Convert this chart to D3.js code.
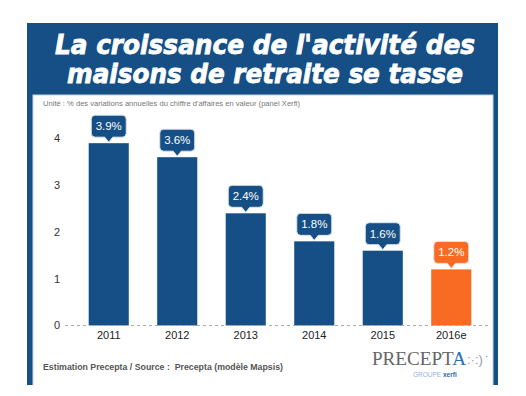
<!DOCTYPE html>
<html>
<head>
<meta charset="utf-8">
<script src="https://cdn.jsdelivr.net/npm/d3@7"></script>
<style>
  body { margin: 0; background: #fff; }
  svg { display: block; }
</style>
</head>
<body>
<svg id="chart" width="526" height="396"></svg>
<script>
// data
const years = ['2011', '2012', '2013', '2014', '2015', '2016e'];
const growth = [3.9, 3.6, 2.4, 1.8, 1.6, 1.2];
const labels = ['3.9%', '3.6%', '2.4%', '1.8%', '1.6%', '1.2%'];
const estimated = [false, false, false, false, false, true];
const yTicks = [0, 1, 2, 3, 4];

const titleLines = ["La croissance de l'activité des", 'maisons de retraite se tasse'];
const unitText = "Unité : % des variations annuelles du chiffre d'affaires en valeur (panel Xerfi)";
const sourceText = 'Estimation Precepta / Source :  Precepta (modèle Mapsis)';

const blue = '#154f85';
const orange = '#f96b22';

const svg = d3.select('#chart');

// frame
svg.append('rect')
  .attr('x', 27).attr('y', 23)
  .attr('width', 471).attr('height', 362)
  .attr('fill', blue);
svg.append('rect')
  .attr('x', 33).attr('y', 95)
  .attr('width', 460).attr('height', 301)
  .attr('fill', '#fff')
  .attr('stroke', '#c9d6e6').attr('stroke-width', 1);
svg.append('rect')
  .attr('x', 0).attr('y', 385)
  .attr('width', 526).attr('height', 11)
  .attr('fill', '#fff');

// title
const titleSpec = [{ x: 55, y: 54, w: 420 }, { x: 67, y: 83, w: 396 }];
svg.selectAll('text.title')
  .data(titleLines)
  .enter().append('text')
  .attr('class', 'title')
  .attr('x', (d, i) => titleSpec[i].x)
  .attr('y', (d, i) => titleSpec[i].y)
  .attr('textLength', (d, i) => titleSpec[i].w)
  .attr('lengthAdjust', 'spacingAndGlyphs')
  .attr('fill', '#fff')
  .attr('stroke', '#fff')
  .attr('stroke-width', 0.8)
  .style('font-family', '"DejaVu Sans", sans-serif')
  .style('font-weight', 'bold')
  .style('font-style', 'italic')
  .style('font-size', '27px')
  .text(d => d);

svg.append('text')
  .attr('x', 43).attr('y', 106)
  .attr('fill', '#777')
  .style('font-family', '"Liberation Sans", Arial, sans-serif')
  .style('font-size', '7.6px')
  .text(unitText);

// scales
const x = d3.scaleBand()
  .domain(years)
  .range([75, 485])
  .paddingInner(0.415)
  .paddingOuter(0.2);

const y = d3.scaleLinear()
  .domain([0, 4])
  .range([325.5, 138.5]);

// y labels
svg.selectAll('text.ytick')
  .data(yTicks)
  .enter().append('text')
  .attr('class', 'ytick')
  .attr('x', 57)
  .attr('y', d => y(d))
  .attr('dy', '0.35em')
  .attr('text-anchor', 'middle')
  .attr('fill', '#333')
  .style('font-family', '"Liberation Sans", Arial, sans-serif')
  .style('font-size', '11px')
  .text(d => d);

// bars
svg.selectAll('rect.bar')
  .data(growth)
  .enter().append('rect')
  .attr('class', 'bar')
  .attr('x', (d, i) => x(years[i]))
  .attr('y', d => y(d))
  .attr('width', x.bandwidth())
  .attr('height', d => y(0) - y(d))
  .attr('fill', (d, i) => estimated[i] ? orange : blue);

// zero line
svg.append('line')
  .attr('x1', 65).attr('x2', 490)
  .attr('y1', y(0)).attr('y2', y(0))
  .attr('stroke', '#aaa')
  .attr('stroke-width', 1)
  .attr('stroke-dasharray', '3,3');

// x axis
const xAxis = svg.append('g')
  .attr('transform', 'translate(0,' + y(0) + ')')
  .call(d3.axisBottom(x).tickSize(0).tickPadding(6));
xAxis.select('.domain').remove();
xAxis.selectAll('text')
  .attr('fill', '#222')
  .style('font-family', '"Liberation Sans", Arial, sans-serif')
  .style('font-size', '11px');

// callouts
const boxW = 35, boxH = 22;
const call = svg.selectAll('g.call')
  .data(growth)
  .enter().append('g')
  .attr('class', 'call')
  .attr('transform', (d, i) => 'translate(' + (x(years[i]) + x.bandwidth() / 2) + ',' + y(d) + ')');

call.append('path')
  .attr('d', 'M' + (-boxW / 2 + 4) + ',' + (-6 - boxH)
    + 'H' + (boxW / 2 - 4) + 'Q' + (boxW / 2) + ',' + (-6 - boxH) + ' ' + (boxW / 2) + ',' + (-6 - boxH + 4)
    + 'V-10Q' + (boxW / 2) + ',-6 ' + (boxW / 2 - 4) + ',-6'
    + 'H4L0,-1L-4,-6'
    + 'H' + (-boxW / 2 + 4) + 'Q' + (-boxW / 2) + ',-6 ' + (-boxW / 2) + ',-10'
    + 'V' + (-6 - boxH + 4) + 'Q' + (-boxW / 2) + ',' + (-6 - boxH) + ' ' + (-boxW / 2 + 4) + ',' + (-6 - boxH) + 'Z')
  .attr('fill', (d, i) => estimated[i] ? orange : blue)
  .attr('stroke', '#dce5ef')
  .attr('stroke-width', 1);

call.append('text')
  .attr('y', -6 - boxH / 2)
  .attr('dy', '0.35em')
  .attr('text-anchor', 'middle')
  .attr('fill', '#fff')
  .style('font-family', '"Liberation Sans", Arial, sans-serif')
  .style('font-size', '11.5px')
  .text((d, i) => labels[i]);

// source
svg.append('text')
  .attr('x', 43).attr('y', 370)
  .attr('fill', '#555')
  .attr('textLength', 240)
  .attr('lengthAdjust', 'spacingAndGlyphs')
  .style('white-space', 'pre')
  .style('font-family', '"Liberation Sans", Arial, sans-serif')
  .style('font-weight', 'bold')
  .style('font-size', '8.8px')
  .text(sourceText);

// logo
const logo = svg.append('text')
  .attr('x', 372).attr('y', 365)
  .attr('textLength', 94)
  .attr('lengthAdjust', 'spacingAndGlyphs')
  .style('font-family', '"Liberation Serif", serif')
  .style('font-size', '18px');
logo.append('tspan').attr('fill', '#666').text('PRECEPT');
logo.append('tspan').attr('fill', '#2a6cb0').text('A');
svg.append('text')
  .attr('x', 467).attr('y', 364)
  .attr('fill', '#999')
  .style('font-family', '"Liberation Sans", sans-serif')
  .style('font-size', '13px')
  .text(':·:)');
svg.append('text')
  .attr('x', 485).attr('y', 360)
  .attr('fill', '#2a6cb0')
  .style('font-size', '10px')
  .text('·');
const grp = svg.append('text')
  .attr('x', 413).attr('y', 377)
  .style('font-family', '"Liberation Sans", sans-serif')
  .style('font-size', '6.5px');
grp.append('tspan').attr('fill', '#8fb4dc').text('GROUPE ');
grp.append('tspan').attr('fill', '#2a6cb0').style('font-weight', 'bold').text('xerfi');
</script>
</body>
</html>
